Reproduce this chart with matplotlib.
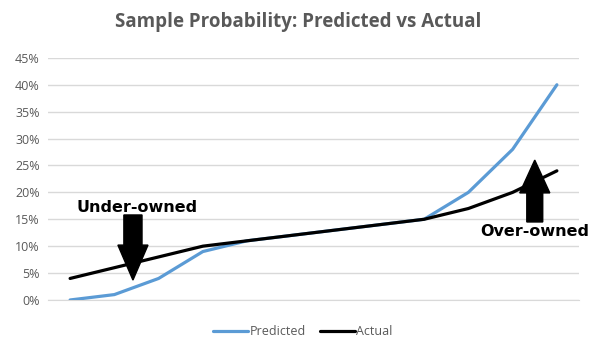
import matplotlib
matplotlib.use('Agg')
import matplotlib.pyplot as plt
from matplotlib.patches import FancyArrow
from matplotlib.ticker import FuncFormatter, MultipleLocator

plt.rcParams['font.family'] = ['Open Sans', 'DejaVu Sans']

# data (probabilities)
buckets = list(range(12))
predicted = [0.00, 0.01, 0.04, 0.09, 0.11, 0.12, 0.13, 0.14, 0.15, 0.20, 0.28, 0.40]
actual = [0.04, 0.06, 0.08, 0.10, 0.11, 0.12, 0.13, 0.14, 0.15, 0.17, 0.20, 0.24]

grey = '#595959'
grid_col = '#d9d9d9'


def main():
    fig = plt.figure(figsize=(5.96, 3.55), dpi=100)
    ax = fig.add_axes([0.0805, 0.155, 0.891, 0.682])

    ax.plot(buckets, predicted, color='#5B9BD5', linewidth=2.3, label='Predicted',
            solid_capstyle='round', zorder=3)
    ax.plot(buckets, actual, color='#000000', linewidth=2.3, label='Actual',
            solid_capstyle='round', zorder=4)

    ax.set_xlim(-0.5, 11.5)
    ax.set_ylim(0, 0.45)
    ax.yaxis.set_major_locator(MultipleLocator(0.05))
    ax.yaxis.set_major_formatter(FuncFormatter(lambda v, p: '{:.0f}%'.format(v * 100)))
    ax.set_xticks([])
    ax.grid(axis='y', color=grid_col, linewidth=1)
    ax.set_axisbelow(True)
    for s in ['top', 'right', 'left']:
        ax.spines[s].set_visible(False)
    ax.spines['bottom'].set_color(grid_col)
    ax.tick_params(axis='y', length=0, labelsize=9, labelcolor=grey, pad=6)

    # arrows and labels
    ax.add_patch(FancyArrow(1.42, 0.158, 0, -0.121, width=0.41, head_width=0.68,
                            head_length=0.065, length_includes_head=True,
                            color='black', zorder=5))
    ax.text(1.52, 0.172, 'Under-owned', fontsize=11.5, fontweight='bold',
            family='DejaVu Sans', ha='center', va='center', zorder=6)
    ax.add_patch(FancyArrow(10.5, 0.145, 0, 0.115, width=0.36, head_width=0.68,
                            head_length=0.061, length_includes_head=True,
                            color='black', zorder=5))
    ax.text(10.5, 0.127, 'Over-owned', fontsize=11.5, fontweight='bold',
            family='DejaVu Sans', ha='center', va='center', zorder=6)

    fig.suptitle('Sample Probability: Predicted vs Actual', x=0.5, y=0.965,
                 fontsize=13.5, fontweight='bold', color=grey)
    ax.legend(loc='center', bbox_to_anchor=(0.48, -0.13), ncol=2, frameon=False,
              fontsize=9, labelcolor=grey, handlelength=2.8, handletextpad=0.1,
              columnspacing=1.1)

    fig.savefig('out.png', dpi=100)


if __name__ == '__main__':
    main()
